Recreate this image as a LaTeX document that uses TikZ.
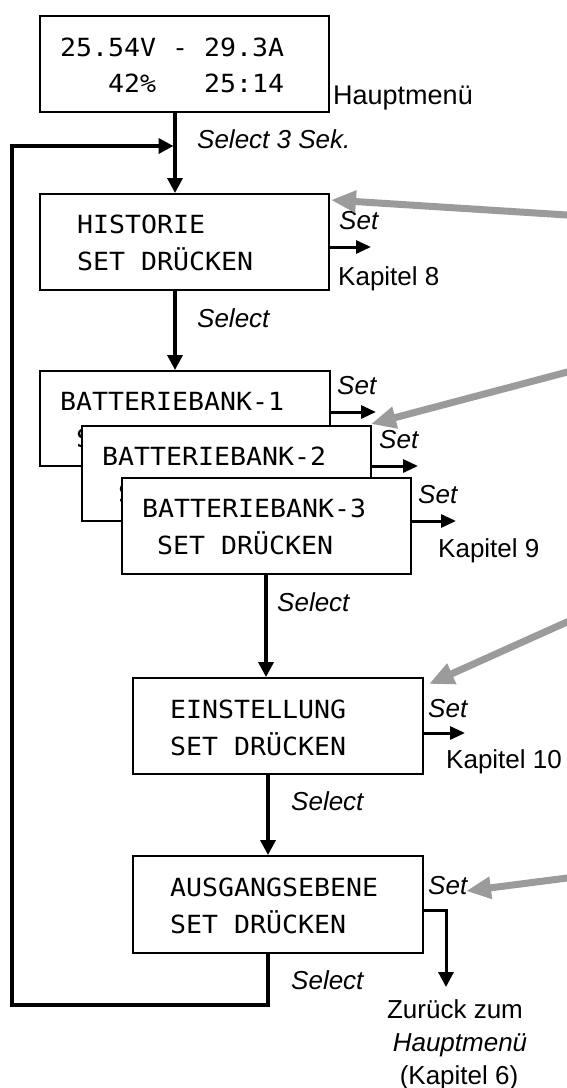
\documentclass[tikz,border=0pt]{standalone}
\usepackage{fontspec}
\setmainfont{Liberation Sans}
\newfontfamily\lcd[FakeStretch=1.063]{DejaVu Sans Mono}
\usetikzlibrary{arrows.meta}
\definecolor{arrgray}{RGB}{155,155,155}
\begin{document}
\begin{tikzpicture}[x=1pt,y=-1pt,
  box/.style={draw, line width=1.6pt, fill=white, inner sep=0pt, anchor=north west},
  lcdt/.style={font=\lcd\fontsize{25}{30}\selectfont, anchor=base west, inner sep=0pt},
  lbl/.style={font=\fontsize{26}{31}\selectfont, anchor=base west, inner sep=0pt},
  ilbl/.style={font=\fontsize{26}{31}\selectfont\itshape, anchor=base west, inner sep=0pt},
  arr/.style={line width=3.5pt, -{Triangle[length=15pt,width=15pt]}},
  setarr/.style={line width=3pt, -{Triangle[length=15pt,width=13pt]}},
  backarr/.style={line width=3pt, -{Triangle[length=15pt,width=15pt]}},
  grayarr/.style={line width=7pt, draw=arrgray, -{Triangle[length=25pt,width=21pt]}}
]
\useasboundingbox (0,0) rectangle (567,1088);

% Hauptmenue
\node[box, minimum width=289pt, minimum height=96pt] (main) at (39,15) {};
\node[lcdt] (mainA) at (60,56) {25.54V - 29.3A};
\node[lcdt] (mainB) at (108,92) {42\%\ \ \ 25:14};
\node[lbl, font=\fontsize{27}{31}\selectfont] (hm) at (333,104) {Hauptmenü};
\node[ilbl] (sel0) at (197,148) {Select 3 Sek.};

% Historie
\node[box, minimum width=289pt, minimum height=96pt] (hist) at (39,193) {};
\node[lcdt] (histA) at (77,233) {HISTORIE};
\node[lcdt] (histB) at (77,270) {SET DRÜCKEN};
\node[ilbl] (set1) at (339,229) {Set};
\node[lbl] (k8) at (338,285) {Kapitel 8};
\coordinate (k8in) at (371,247);
\draw[setarr] (hist.east |- k8in) -- (k8in);
\node[ilbl] (sel1) at (197,327) {Select};

% Batteriebank 1 (second line hidden behind bank 2, only its first letter shows)
\node[box, minimum width=290pt, minimum height=95pt] (bb1) at (39,370) {};
\node[lcdt] (bb1A) at (60,410) {BATTERIEBANK-1};
\node[lcdt] (bb1B) at (76,447) {S};
\node[ilbl] (set2) at (337,394) {Set};
\coordinate (bb1out) at (376,412);
\draw[setarr] (bb1.east |- bb1out) -- (bb1out);

% Batteriebank 2
\node[box, minimum width=289pt, minimum height=95pt] (bb2) at (81,425) {};
\node[lcdt] (bb2A) at (102,465) {BATTERIEBANK-2};
\node[lcdt] (bb2B) at (118,502) {S};
\node[ilbl] (set3) at (379,448) {Set};
\coordinate (bb2out) at (418,466);
\draw[setarr] (bb2.east |- bb2out) -- (bb2out);

% Batteriebank 3
\node[box, minimum width=289pt, minimum height=96pt] (bb3) at (121,477) {};
\node[lcdt] (bb3A) at (142,517) {BATTERIEBANK-3};
\node[lcdt] (bb3B) at (157,554) {SET DRÜCKEN};
\node[ilbl] (set4) at (418,503) {Set};
\coordinate (bb3out) at (456,521);
\draw[setarr] (bb3.east |- bb3out) -- (bb3out);
\node[lbl] (k9) at (438,557) {Kapitel 9};
\node[ilbl] (sel2) at (277,611) {Select};

% Einstellung
\node[box, minimum width=290pt, minimum height=96pt] (ein) at (132,677) {};
\node[lcdt] (einA) at (170,718) {EINSTELLUNG};
\node[lcdt] (einB) at (170,755) {SET DRÜCKEN};
\node[ilbl] (set5) at (428,717) {Set};
\coordinate (einout) at (465,733);
\draw[setarr] (ein.east |- einout) -- (einout);
\node[lbl] (k10) at (446,768) {Kapitel 10};
\node[ilbl] (sel3) at (291,810) {Select};

% Ausgangsebene
\node[box, minimum width=290pt, minimum height=97pt] (aus) at (132,855) {};
\node[lcdt] (ausA) at (170,896) {AUSGANGSEBENE};
\node[lcdt] (ausB) at (170,933) {SET DRÜCKEN};
\node[ilbl] (set6) at (428,894) {Set};
\node[ilbl] (sel4) at (291,989) {Select};

% Zurueck
\node[lbl, anchor=base] (back) at (455,1018) {Zurück zum};
\node[ilbl, anchor=base] (backB) at (460,1051) {Hauptmenü};
\node[lbl, anchor=base] (backC) at (459,1084) {(Kapitel 6)};

% vertical connectors
\coordinate (xa) at (175,0);
\coordinate (xb) at (266,0);
\coordinate (xc) at (268,0);
\draw[arr] (main.south -| xa) -- (hist.north -| xa);
\draw[arr] (hist.south -| xa) -- (bb1.north -| xa);
\draw[arr] (bb3.south -| xb) -- (ein.north -| xb);
\draw[arr] (ein.south -| xc) -- (aus.north -| xc);

% loop back
\coordinate (lb) at (12,1005);
\coordinate (lt) at (12,146);
\coordinate (li) at (173.5,146);
\draw[arr] (aus.south -| xc) |- (lb) -- (lt) -- (li);

% back to main menu
\coordinate (ay) at (0,910);
\coordinate (bt) at (446,987);
\draw[backarr] (aus.east |- ay) -| (bt);

% gray pointer arrows
\coordinate (g1s) at (575,215.5);
\coordinate (g1e) at (331,200);
\coordinate (g2s) at (575,370);
\coordinate (g2e) at (371,424);
\coordinate (g3s) at (575,618.4);
\coordinate (g3e) at (429,684);
\coordinate (g4s) at (575,877);
\coordinate (g4e) at (466,891);
\draw[grayarr] (g1s) -- (g1e);
\draw[grayarr] (g2s) -- (g2e);
\draw[grayarr] (g3s) -- (g3e);
\draw[grayarr] (g4s) -- (g4e);
\end{tikzpicture}
\end{document}
